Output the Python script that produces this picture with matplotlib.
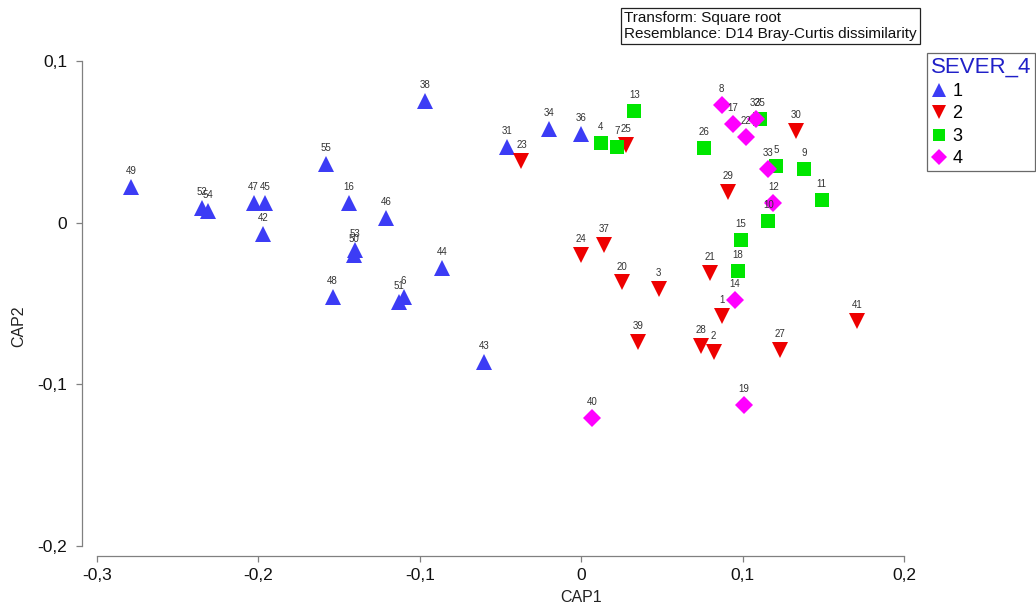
import matplotlib
matplotlib.use("Agg")
import matplotlib.pyplot as plt
from matplotlib.lines import Line2D

plt.rcParams["font.family"] = ["Liberation Sans", "DejaVu Sans"]

# CAP scores per SEVER_4 group
ids_1 = [49, 52, 54, 47, 45, 42, 55, 16, 46, 53, 50, 48, 51, 6, 44, 43, 38, 31, 34, 36]
cap1_1 = [-0.279, -0.235, -0.231, -0.203, -0.196, -0.197, -0.158, -0.144, -0.121, -0.140,
          -0.141, -0.154, -0.113, -0.110, -0.086, -0.060, -0.097, -0.046, -0.020, 0.000]
cap2_1 = [0.022, 0.009, 0.007, 0.012, 0.012, -0.007, 0.036, 0.012, 0.003, -0.017,
          -0.020, -0.046, -0.049, -0.046, -0.028, -0.086, 0.075, 0.047, 0.058, 0.055]

ids_2 = [23, 25, 30, 29, 24, 37, 20, 3, 21, 1, 39, 28, 2, 41, 27]
cap1_2 = [-0.037, 0.028, 0.133, 0.091, 0.000, 0.014, 0.025, 0.048, 0.080, 0.087,
          0.035, 0.074, 0.082, 0.171, 0.123]
cap2_2 = [0.038, 0.048, 0.057, 0.019, -0.020, -0.014, -0.037, -0.041, -0.031, -0.058,
          -0.074, -0.076, -0.080, -0.061, -0.079]

ids_3 = [4, 7, 13, 26, 35, 5, 9, 11, 10, 15, 18]
cap1_3 = [0.012, 0.022, 0.033, 0.076, 0.111, 0.121, 0.138, 0.149, 0.116, 0.099, 0.097]
cap2_3 = [0.049, 0.047, 0.069, 0.046, 0.064, 0.035, 0.033, 0.014, 0.001, -0.011, -0.030]

ids_4 = [8, 17, 22, 32, 33, 12, 14, 19, 40]
cap1_4 = [0.087, 0.094, 0.102, 0.108, 0.116, 0.119, 0.095, 0.101, 0.007]
cap2_4 = [0.073, 0.061, 0.053, 0.064, 0.033, 0.012, -0.048, -0.113, -0.121]

group_names = ["1", "2", "3", "4"]
x_ticks = [-0.3, -0.2, -0.1, 0, 0.1, 0.2]
x_tick_labels = ["-0,3", "-0,2", "-0,1", "0", "0,1", "0,2"]
y_ticks = [-0.2, -0.1, 0, 0.1]
y_tick_labels = ["-0,2", "-0,1", "0", "0,1"]

groups = [
    (ids_1, cap1_1, cap2_1, "^", "#3c3cf5", 11.5),
    (ids_2, cap1_2, cap2_2, "v", "#ee0000", 11.5),
    (ids_3, cap1_3, cap2_3, "s", "#00e600", 9.5),
    (ids_4, cap1_4, cap2_4, "D", "#ff00ff", 9),
]

W, H = 1036, 607
fig = plt.figure(figsize=(W / 100, H / 100), dpi=100)
ax = fig.add_axes([97 / W, (H - 546) / H, (904 - 97) / W, (546 - 61) / H])
ax.set_xlim(-0.3, 0.2)
ax.set_ylim(-0.2, 0.1)

handles = []
for ids, xs, ys, marker, color, ms in groups:
    ax.plot(xs, ys, linestyle="none", marker=marker, color=color,
            markersize=ms, markeredgewidth=0, clip_on=False)
    for i, x, y in zip(ids, xs, ys):
        ax.annotate(str(i), (x, y), xytext=(0, 11.5), textcoords="offset points",
                    ha="center", va="center", fontsize=7, color="#333333")
    handles.append(Line2D([], [], linestyle="none", marker=marker, color=color,
                          markersize=ms * 0.92, markeredgewidth=0))

for side in ["top", "right"]:
    ax.spines[side].set_visible(False)
ax.spines["left"].set_position(("outward", 10.8))
ax.spines["bottom"].set_position(("outward", 7.2))
for side in ["left", "bottom"]:
    ax.spines[side].set_color("#808080")
    ax.spines[side].set_linewidth(0.9)
ax.spines["left"].set_bounds(-0.2, 0.1)
ax.spines["bottom"].set_bounds(-0.3, 0.2)

ax.set_xticks(x_ticks)
ax.set_xticklabels(x_tick_labels)
ax.set_yticks(y_ticks)
ax.set_yticklabels(y_tick_labels)
ax.tick_params(axis="both", direction="out", length=4.5, width=0.9,
               color="#808080", labelsize=12.5, labelcolor="#111111")
ax.tick_params(axis="y", pad=6)
ax.tick_params(axis="x", pad=4)

ax.set_xlabel("CAP1", fontsize=11.5, color="#222222")
ax.xaxis.set_label_coords((581 - 97) / 807, (546 - 590) / 485)
ax.set_ylabel("CAP2", fontsize=11.5, color="#222222")
ax.yaxis.set_label_coords((26 - 97) / 807, (546 - 326) / 485)

fig.text(624 / W, 1 - 26 / H,
         "Transform: Square root\nResemblance: D14 Bray-Curtis dissimilarity",
         ha="left", va="center", fontsize=11, color="#111111", linespacing=1.15,
         bbox=dict(boxstyle="square,pad=0.2", facecolor="white",
                   edgecolor="#222222", linewidth=0.9))

leg = fig.legend(handles, group_names, title="SEVER_4", loc="upper left",
                 bbox_to_anchor=(927 / W, 1 - 53 / H), frameon=True, fancybox=False,
                 edgecolor="#444444", fontsize=13, title_fontsize=16,
                 handlelength=0.9, handletextpad=0.3, borderpad=0.2,
                 labelspacing=0.3, borderaxespad=0, alignment="left")
leg.get_frame().set_linewidth(0.9)
leg.get_title().set_color("#2020c8")

fig.savefig("out.png", dpi=100)
